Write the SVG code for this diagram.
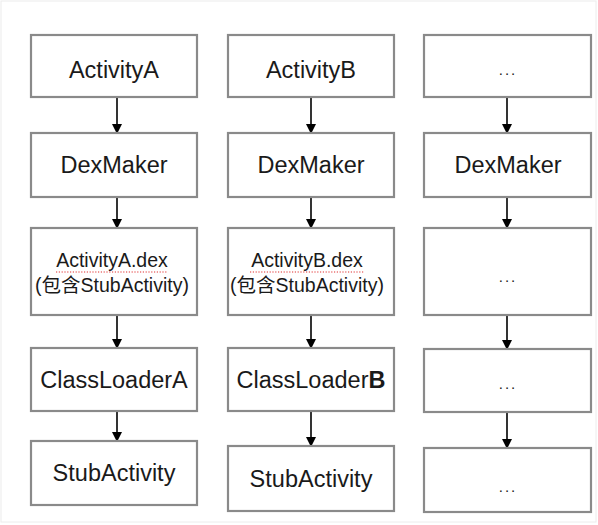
<svg xmlns="http://www.w3.org/2000/svg" width="598" height="525" viewBox="0 0 598 525">
<defs>
<style>
.box{fill:#fff;stroke:#8a8a8a;stroke-width:2.2}
.t{font-family:"Liberation Sans",Arial,sans-serif;font-size:23.5px;fill:#1a1a1a;text-anchor:middle}
.s{font-family:"Liberation Sans","Noto Sans CJK SC",sans-serif;font-size:19.5px;fill:#1a1a1a;text-anchor:middle}
.e{font-family:"Liberation Sans",sans-serif;font-size:15px;fill:#1a1a1a;text-anchor:middle;letter-spacing:2px}
.c{stroke:#000;stroke-width:1.6;fill:none;marker-end:url(#ah)}
.sp{stroke:#e03030;stroke-width:1.2;stroke-dasharray:1.2 1.6;fill:none}
</style>
<marker id="ah" markerWidth="10" markerHeight="10" refX="9" refY="5" orient="auto" markerUnits="userSpaceOnUse">
<path d="M0,0 L10,5 L0,10 Z" fill="#000"/>
</marker>
</defs>
<rect x="0" y="0" width="598" height="525" fill="#fff"/>
<rect x="1" y="1" width="595" height="521" fill="none" stroke="#ececec" stroke-width="1"/>

<g id="connectors">
<line class="c" x1="117" y1="97" x2="117" y2="133"/>
<line class="c" x1="117" y1="197" x2="117" y2="228"/>
<line class="c" x1="117" y1="315" x2="117" y2="348"/>
<line class="c" x1="117" y1="411" x2="117" y2="441"/>
<line class="c" x1="311" y1="97" x2="311" y2="133"/>
<line class="c" x1="311" y1="197" x2="311" y2="228"/>
<line class="c" x1="311" y1="315" x2="311" y2="348"/>
<line class="c" x1="311" y1="411" x2="311" y2="446"/>
<line class="c" x1="507" y1="97" x2="507" y2="133"/>
<line class="c" x1="507" y1="197" x2="507" y2="228"/>
<line class="c" x1="507" y1="315" x2="507" y2="349"/>
<line class="c" x1="507" y1="412" x2="507" y2="448"/>
</g>

<g id="activityA"><rect class="box" x="31" y="35" width="166" height="62"/><text class="t" x="114" y="78">ActivityA</text></g>
<g id="dexmakerA"><rect class="box" x="31" y="133" width="166" height="64"/><text class="t" x="114" y="173">DexMaker</text></g>
<g id="dexA"><rect class="box" x="31" y="228" width="166" height="87"/><text class="s" x="112" y="267">ActivityA.dex</text><line class="sp" x1="56" y1="272" x2="168" y2="272"/><text class="s" x="112" y="292">(包含StubActivity)</text></g>
<g id="classloaderA"><rect class="box" x="31" y="348" width="166" height="63"/><text class="t" x="114" y="388">ClassLoaderA</text></g>
<g id="stubA"><rect class="box" x="31" y="441" width="166" height="64"/><text class="t" x="114" y="481">StubActivity</text></g>

<g id="activityB"><rect class="box" x="228" y="35" width="166" height="62"/><text class="t" x="311" y="78">ActivityB</text></g>
<g id="dexmakerB"><rect class="box" x="228" y="133" width="166" height="64"/><text class="t" x="311" y="173">DexMaker</text></g>
<g id="dexB"><rect class="box" x="228" y="228" width="166" height="87"/><text class="s" x="307" y="267">ActivityB.dex</text><line class="sp" x1="250" y1="272" x2="364" y2="272"/><text class="s" x="307" y="292">(包含StubActivity)</text></g>
<g id="classloaderB"><rect class="box" x="228" y="348" width="166" height="63"/><text class="t" x="311" y="388">ClassLoader<tspan font-weight="bold">B</tspan></text></g>
<g id="stubB"><rect class="box" x="228" y="446" width="166" height="65"/><text class="t" x="311" y="487">StubActivity</text></g>

<g id="etc1"><rect class="box" x="424" y="35" width="167" height="62"/><text class="e" x="508" y="75">...</text></g>
<g id="dexmakerC"><rect class="box" x="424" y="133" width="167" height="64"/><text class="t" x="508" y="173">DexMaker</text></g>
<g id="etc3"><rect class="box" x="424" y="228" width="167" height="87"/><text class="e" x="508" y="282">...</text></g>
<g id="etc4"><rect class="box" x="424" y="349" width="167" height="63"/><text class="e" x="508" y="389">...</text></g>
<g id="etc5"><rect class="box" x="424" y="448" width="167" height="64"/><text class="e" x="508" y="492">...</text></g>
</svg>
